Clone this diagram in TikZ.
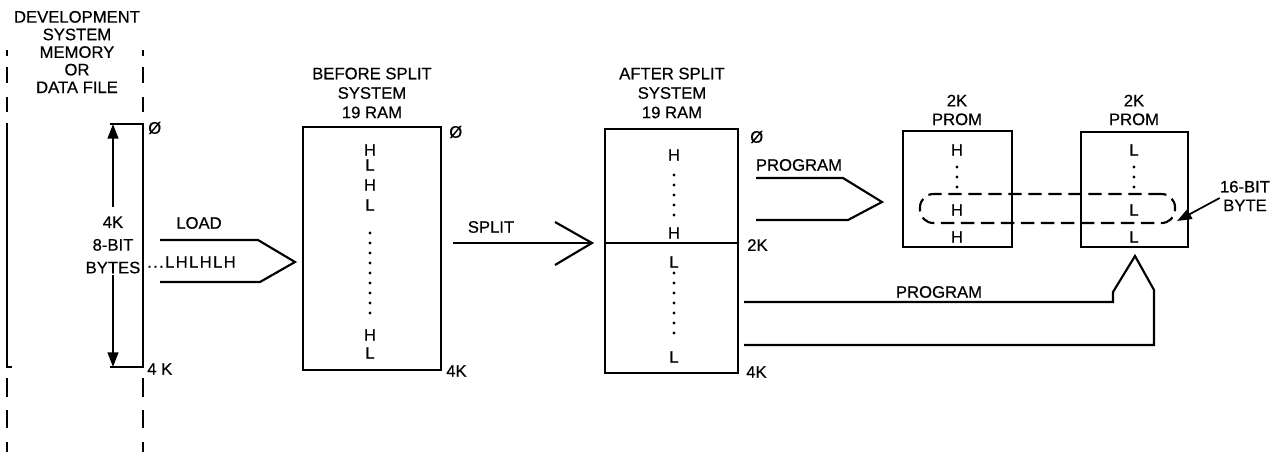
\documentclass[tikz,border=0pt]{standalone}
\usepackage{fontspec}
\setmainfont{Liberation Sans}[FakeBold=0.5]
\usetikzlibrary{fit,arrows.meta}
\begin{document}
\begin{tikzpicture}[x=0.75pt,y=-0.75pt,
  lw/.style={line width=1.6pt},
  box/.style={draw, line width=1.6pt, inner sep=0pt},
  lbl/.style={font=\fontsize{12.5}{14}\selectfont, inner sep=0pt, align=center},
  bit/.style={font=\fontsize{12.5}{14}\selectfont, inner sep=0pt},
  dotm/.style={circle, fill, inner sep=0pt, minimum size=2.6pt},
  dsh/.style={line width=1.6pt, dash pattern=on 10pt off 5pt},
  tip/.style={-{Triangle[length=11pt,width=8pt]}}
]
\useasboundingbox (0,0) rectangle (1281,456);

% ---------- development system memory ----------
\node[lbl, font=\fontsize{12.5}{13.2}\selectfont] (devlbl) at (77,52) {DEVELOPMENT\\SYSTEM\\MEMORY\\OR\\DATA FILE};
\foreach \a/\b in {50/56,67/83,97/112,378/397,410/428,442/452}{
  \draw[lw] (7,\a) -- (7,\b);
  \draw[lw] (143,\a) -- (143,\b);
}
\draw[lw] (7,123) -- (7,367) -- (12,367);
\coordinate (memtop) at (113,124);
\coordinate (membot) at (113,367);
\draw[lw] (110,124) -- (143,124) -- (143,367) -- (110,367);
\node[bit, anchor=west] (m0) at (148,128) {Ø};
\node[bit, anchor=west] (m4k) at (147,369) {4 K};
\node[lbl, font=\fontsize{12.5}{17}\selectfont] (bytes) at (113,245) {4K\\8-BIT\\BYTES};
\draw[lw, tip] (bytes.north |- 0,207) -- (memtop);
\draw[lw, tip] (bytes.south |- 0,275) -- (membot);

% ---------- LOAD ----------
\coordinate (ld1) at (160,240);
\coordinate (ld2) at (258,240);
\coordinate (ldtip) at (295,262);
\coordinate (ld3) at (260,282);
\coordinate (ld4) at (160,282);
\draw[lw, line join=miter] (ld1) -- (ld2) -- (ldtip) -- (ld3) -- (ld4);
\node[bit] (loadlbl) at (199,223) {LOAD};
\node[bit, anchor=west] (lhl) at (147,262) {\addfontfeature{LetterSpace=8}...LHLHLH};

% ---------- before split RAM ----------
\node[lbl, font=\fontsize{12.5}{14.6}\selectfont] (bslbl) at (372,93) {BEFORE SPLIT\\SYSTEM\\19 RAM};
\node[box, fit={(303,127) (441,370)}] (ram1) {};
\node[bit, anchor=west] (r10) at (449,132) {Ø};
\node[bit, anchor=west] (r14k) at (446,371) {4K};
\foreach \y/\t in {150/H,165/L,185/H,205/L,335/H,353/L}{
  \node[bit] at (370,\y) {\t};
}
\foreach \y in {233,243,...,313}{
  \node[dotm] at (370,\y) {};
}

% ---------- SPLIT ----------
\coordinate (sp1) at (453,243);
\coordinate (sptip) at (592,243);
\draw[lw] (sp1) -- (sptip);
\draw[lw] (555,222) -- (sptip) -- (555,265);
\node[bit] (splitlbl) at (491,227) {SPLIT};

% ---------- after split RAM ----------
\node[lbl, font=\fontsize{12.5}{14.6}\selectfont] (aslbl) at (672,93) {AFTER SPLIT\\SYSTEM\\19 RAM};
\node[box, fit={(605,129) (738,373)}] (ram2) {};
\draw[lw] (ram2.west |- 0,243) -- (ram2.east |- 0,243);
\node[bit, anchor=west] (r20) at (750,137) {Ø};
\node[bit, anchor=west] (r22k) at (747,245) {2K};
\node[bit, anchor=west] (r24k) at (746,372) {4K};
\foreach \y/\t in {155/H,233/H,262/L,357/L}{
  \node[bit] at (674,\y) {\t};
}
\foreach \y in {175,185,...,215, 273,283,...,335}{
  \node[dotm] at (674,\y) {};
}

% ---------- PROGRAM (upper) ----------
\coordinate (pa1) at (756,178);
\coordinate (pa2) at (843,178);
\coordinate (patip) at (882,202);
\coordinate (pa3) at (848,220);
\coordinate (pa4) at (756,220);
\draw[lw, line join=miter] (pa1) -- (pa2) -- (patip) -- (pa3) -- (pa4);
\node[bit] (proglbl1) at (799,165) {PROGRAM};

% ---------- PROMs ----------
\node[lbl] (p1lbl) at (957,110) {2K\\PROM};
\node[box, fit={(903,131) (1012,247)}] (prom1) {};
\node[lbl] (p2lbl) at (1134,110) {2K\\PROM};
\node[box, fit={(1081,132) (1188,247)}] (prom2) {};
\foreach \y in {150,210,237}{
  \node[bit] at (957,\y) {H};
  \node[bit] at (1134,\y) {L};
}
\foreach \y in {167,177,187}{
  \node[dotm] at (957,\y) {};
  \node[dotm] at (1134,\y) {};
}
\node[dsh, draw, rounded corners=10pt, inner sep=0pt, fit={(920,194) (1175,223)}] (byte) {};
\node[lbl] (bytelbl) at (1245,196) {16-BIT\\BYTE};
\coordinate (bytetip) at (1177,221);
\draw[line width=1.3pt, tip] (bytelbl.west |- 0,198) -- (bytetip);

% ---------- PROGRAM (lower) ----------
\coordinate (pb1) at (744,302);
\coordinate (pb2) at (1113,302);
\coordinate (pb3) at (1113,292);
\coordinate (pbtip) at (1135,256);
\coordinate (pb4) at (1154,290);
\coordinate (pb5) at (1154,345);
\coordinate (pb6) at (744,345);
\draw[lw, line join=miter] (pb1) -- (pb2) -- (pb3) -- (pbtip) -- (pb4) -- (pb5) -- (pb6);
\node[bit] (proglbl2) at (939,292) {PROGRAM};
\end{tikzpicture}
\end{document}
